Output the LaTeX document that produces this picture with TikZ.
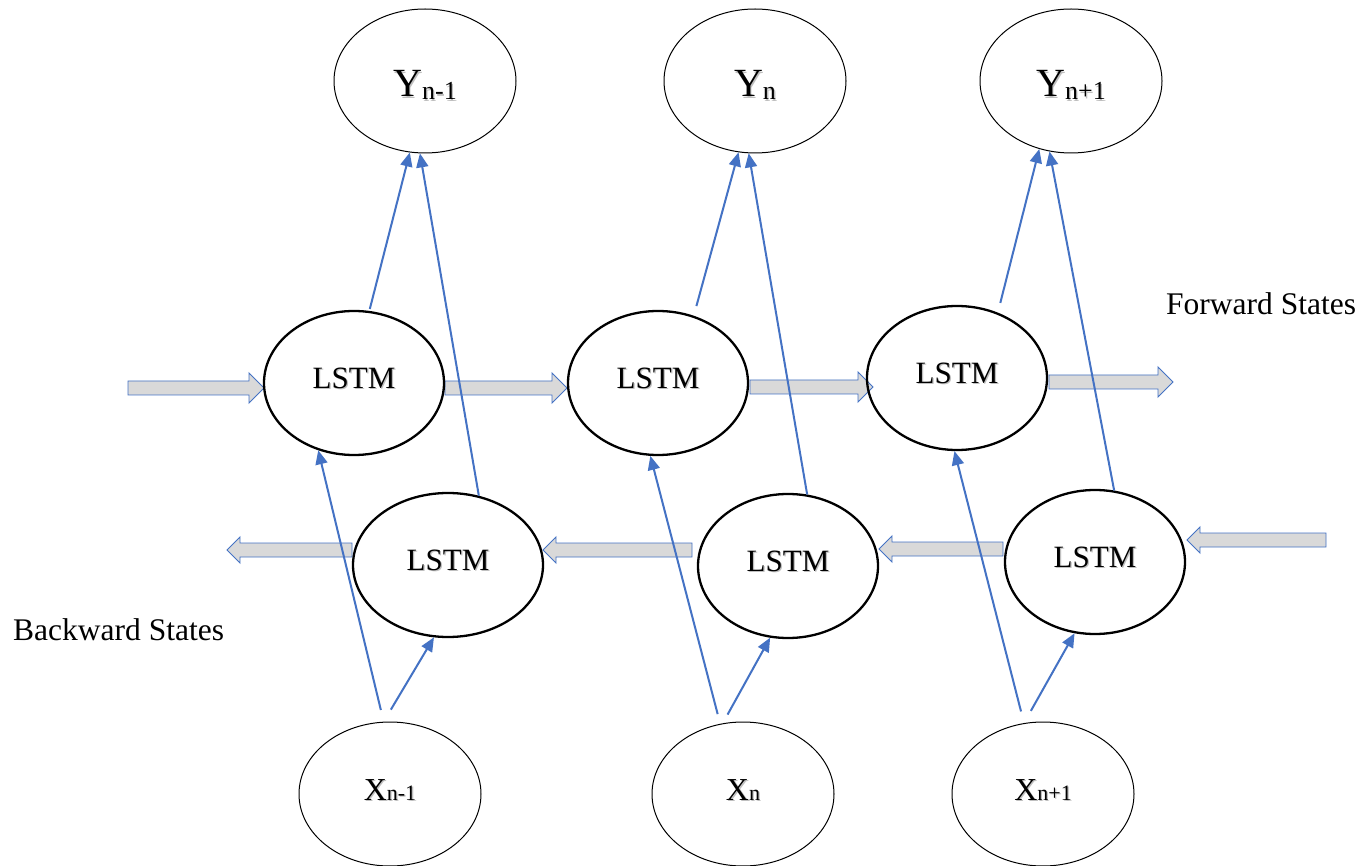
\documentclass[tikz,border=0pt]{standalone}
\usepackage{fontspec}
\setmainfont{Liberation Serif}
\usetikzlibrary{arrows.meta,calc,shapes.geometric}
\definecolor{oblue}{RGB}{68,114,196}
\definecolor{agray}{RGB}{217,217,217}
\newcommand{\shd}[1]{\makebox[0pt][l]{\hspace{1.3pt}\raisebox{-1.3pt}{\color{black!25}#1}}#1}
\newcommand{\ylab}[1]{\shd{{\fontsize{40}{42}\selectfont Y}{\fontsize{26}{28}\selectfont\raisebox{-3pt}{#1}}}}
\newcommand{\xlab}[1]{\shd{{\fontsize{32}{34}\selectfont X}{\fontsize{22}{24}\selectfont #1}}}
% right-pointing block arrow: tail x, tip x, centre y
\newcommand{\blkR}[3]{\draw[blk] (#1,#3-7) -- (#2-15,#3-7) -- (#2-15,#3-15) -- (#2,#3) -- (#2-15,#3+15) -- (#2-15,#3+7) -- (#1,#3+7) -- cycle;}
% left-pointing block arrow: tip x, tail x, centre y
\newcommand{\blkL}[3]{\draw[blk] (#2,#3-7) -- (#1+13,#3-7) -- (#1+13,#3-13) -- (#1,#3) -- (#1+13,#3+13) -- (#1+13,#3+7) -- (#2,#3+7) -- cycle;}
\tikzset{
  thinell/.style={ellipse, draw=black, line width=1pt, minimum width=182pt, minimum height=144pt, inner sep=0pt},
  lstm/.style={ellipse, draw=black, line width=2.3pt, minimum width=180pt, minimum height=144pt, inner sep=0pt},
  lstmtxt/.style={font=\fontsize{31}{34}\selectfont, inner sep=0pt},
  conn/.style={draw=oblue, line width=2pt, -{Triangle[length=14pt,width=12pt]}},
  blk/.style={draw=oblue, line width=0.9pt, fill=agray},
  statetxt/.style={font=\fontsize{31.5}{34}\selectfont, inner sep=0pt},
}
\begin{document}
\begin{tikzpicture}[x=1pt,y=-1pt]
\useasboundingbox[fill=white] (0,0) rectangle (1361,866);

% block arrows (forward states)
\blkR{128}{264}{388}
\blkR{445}{567}{388}
\blkR{750}{873}{387}
\blkR{1049}{1173}{382}
% block arrows (backward states)
\blkL{227}{352}{550}
\blkL{543}{692}{550}
\blkL{879}{1003}{549}
\blkL{1187}{1326}{540}

% output nodes
\node[thinell, label={[yshift=-5pt,inner sep=0pt]center:\ylab{n-1}}] (y1) at (425,81) {};
\node[thinell, label={[yshift=-5pt,inner sep=0pt]center:\ylab{n}}] (y2) at (755,81) {};
\node[thinell, label={[yshift=-5pt,inner sep=0pt]center:\ylab{n+1}}] (y3) at (1071,81) {};

% forward LSTMs
\node[lstm, label={[lstmtxt,yshift=4.3pt]center:\shd{LSTM}}] (f1) at (354,383) {};
\node[lstm, label={[lstmtxt,yshift=4.3pt]center:\shd{LSTM}}] (f2) at (658,383) {};
\node[lstm, label={[lstmtxt,yshift=4.3pt]center:\shd{LSTM}}] (f3) at (957,378) {};

% backward LSTMs
\node[lstm, minimum width=190pt, label={[lstmtxt,yshift=4.3pt]center:\shd{LSTM}}] (b1) at (448,565) {};
\node[lstm, label={[lstmtxt,yshift=4.3pt]center:\shd{LSTM}}] (b2) at (788,566) {};
\node[lstm, label={[lstmtxt,yshift=4.3pt]center:\shd{LSTM}}] (b3) at (1095,562) {};

% input nodes
\node[thinell, label={[yshift=3.5pt,inner sep=0pt]center:\xlab{n-1}}] (x1) at (390,794) {};
\node[thinell, label={[yshift=3.5pt,inner sep=0pt]center:\xlab{n}}] (x2) at (743,794) {};
\node[thinell, label={[yshift=3.5pt,inner sep=0pt]center:\xlab{n+1}}] (x3) at (1043,794) {};

% state labels
\node[statetxt, anchor=base west] (fs) at (1166,315) {Forward States};
\node[statetxt, anchor=base west] (bs) at (13,640) {Backward States};

% connectors to outputs
\draw[conn, shorten <=2pt] (f1.78) -- (y1.258);
\draw[conn] (b1.66) -- (y1.266);
\draw[conn, shorten <=10pt] (f2.62) -- (y2.257);
\draw[conn] (b2.75) -- (y2.265);
\draw[conn, shorten <=10pt] (f3.58) -- (y3.245);
\draw[conn] (b3.75) -- (y3.253);

% connectors from inputs
\draw[conn, shorten <=12pt] (x1.95) -- (f1.242);
\draw[conn, shorten <=14pt] (x1.95) -- (b1.259);
\draw[conn, shorten <=10pt] (x2.108) -- (f2.264);
\draw[conn, shorten <=10pt] (x2.106) -- (b2.256);
\draw[conn, shorten <=12pt] (x3.105) -- (f3.268);
\draw[conn, shorten <=14pt] (x3.105) -- (b3.254);
\end{tikzpicture}
\end{document}
